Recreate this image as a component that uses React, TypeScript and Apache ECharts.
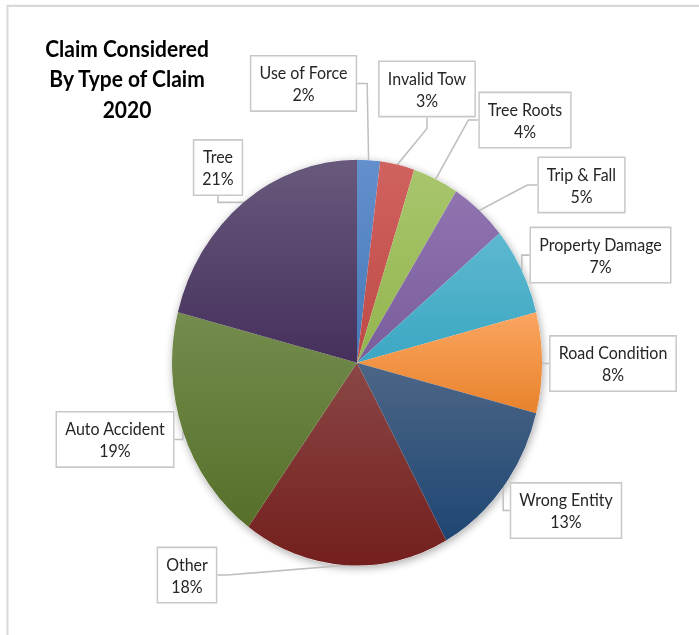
import React, { useEffect, useRef } from "react";
import * as echarts from "echarts";

// ---- data ----
const categories = [
  "Use of Force",
  "Invalid Tow",
  "Tree Roots",
  "Trip & Fall",
  "Property Damage",
  "Road Condition",
  "Wrong Entity",
  "Other",
  "Auto Accident",
  "Tree",
];
const values = [2, 3, 4, 5, 7, 8, 13, 18, 19, 21];
const titleLines = ["Claim Considered", "By Type of Claim", "2020"];

// ---- styles ----
const topColors = [
  "#6390CC", "#D0625F", "#A8C56C", "#8F74B0", "#5DB8CF",
  "#FBA661", "#4D6687", "#8A4745", "#748C4D", "#68597C",
];
const bottomColors = [
  "#4679B8", "#BE4A47", "#93B54F", "#7A5D9C", "#3CA7C3",
  "#E8822B", "#1E4672", "#731F1D", "#56702A", "#45305C",
];

// ---- layout (chart coordinates, before the vertical stretch) ----
const STRETCH = 1.097;
const W = 699;
const H = 635 / STRETCH;
const CENTER: [number, number] = [357, 330.6];
const RADIUS = 185;
const labelCenters: [number, number][] = [
  [303.5, 76.1],
  [427, 81.1],
  [525, 109.4],
  [581.5, 168.6],
  [600.5, 232.5],
  [613, 331.4],
  [566, 465.4],
  [187, 524.2],
  [115, 400.6],
  [218, 152.7],
];

const FONT = "Lato, 'Open Sans', sans-serif";

export default function App() {
  const ref = useRef<HTMLDivElement>(null);

  useEffect(() => {
    if (!ref.current) return;
    const chart = echarts.init(ref.current, undefined, { renderer: "svg" });

    const data = categories.map((name, i) => ({
      name,
      value: values[i],
      itemStyle: {
        color: new echarts.graphic.LinearGradient(0, 0, 0, 1, [
          { offset: 0, color: topColors[i] },
          { offset: 1, color: bottomColors[i] },
        ]),
      },
    }));

    chart.setOption({
      animation: false,
      backgroundColor: "#ffffff",
      graphic: [
        {
          type: "rect",
          silent: true,
          shape: { x: 7.5, y: 5.3, width: 800, height: 800 },
          style: { fill: "none", stroke: "#d9d9d9", lineWidth: 2 },
          z: 0,
        },
        {
          type: "text",
          x: 127,
          y: 29.5,
          style: {
            text: titleLines.join("\n"),
            textAlign: "center",
            textVerticalAlign: "top",
            font: `bold 21px ${FONT}`,
            lineHeight: 28,
            fill: "#000000",
          },
        },
      ],
      series: [
        {
          type: "pie",
          silent: true,
          center: CENTER,
          radius: RADIUS,
          label: { show: false },
          labelLine: { show: false },
          data: [{ value: 1, name: "" }],
          itemStyle: {
            color: "#ffffff",
            shadowBlur: 8,
            shadowColor: "rgba(0,0,0,0.35)",
            shadowOffsetX: 1,
            shadowOffsetY: 2,
          },
          z: 1,
        },
        {
          type: "pie",
          center: CENTER,
          radius: RADIUS,
          startAngle: 90,
          clockwise: true,
          avoidLabelOverlap: false,
          data,
          z: 2,
          label: {
            show: true,
            position: "outside",
            formatter: (p: any) => `${p.name}\n${Math.round(p.percent)}%`,
            fontFamily: FONT,
            fontSize: 16,
            lineHeight: 20,
            color: "#262626",
            align: "center",
            backgroundColor: "#ffffff",
            borderColor: "#c8c8c8",
            borderWidth: 1.5,
            padding: [4.5, 8],
          },
          labelLine: {
            show: true,
            length: 10,
            length2: 10,
            lineStyle: { color: "#bfbfbf", width: 1.5 },
          },
          labelLayout: (params: any) => {
            const c = labelCenters[params.dataIndex];
            return {
              x: c[0],
              y: c[1],
              align: "center",
              verticalAlign: "middle",
            };
          },
        },
      ],
    });

    return () => chart.dispose();
  }, []);

  return (
    <div
      style={{
        position: "fixed",
        left: 0,
        top: 0,
        width: W,
        height: H,
        transform: `scaleY(${STRETCH})`,
        transformOrigin: "0 0",
        background: "#ffffff",
      }}
    >
      <div ref={ref} style={{ width: W, height: H }} />
    </div>
  );
}
